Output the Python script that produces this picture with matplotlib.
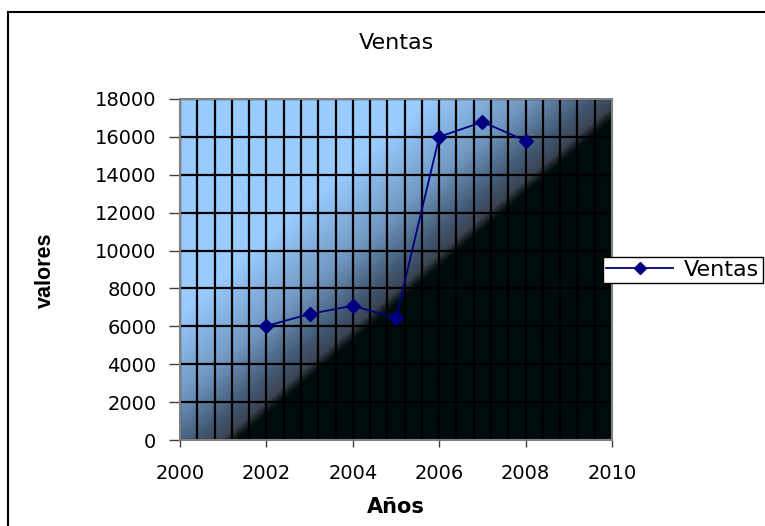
import numpy as np
import matplotlib
matplotlib.use("Agg")
import matplotlib.pyplot as plt
from matplotlib.colors import LinearSegmentedColormap
from matplotlib.lines import Line2D
from matplotlib.ticker import MultipleLocator

plt.rcParams['font.family'] = ['DejaVu Sans']

years = [2002, 2003, 2004, 2005, 2006, 2007, 2008]
ventas = [6020, 6650, 7090, 6430, 16000, 16790, 15800]
x_ticks = [2000, 2002, 2004, 2006, 2008, 2010]
y_ticks = [0, 2000, 4000, 6000, 8000, 10000, 12000, 14000, 16000, 18000]
title = "Ventas"
series_name = "Ventas"
x_label = "Años"
y_label = "valores"

W, H = 765, 526
fig = plt.figure(figsize=(W / 100, H / 100), dpi=100)
ax = fig.add_axes([180 / W, 1 - 440 / H, 432 / W, 341 / H])

# diagonal gradient background (light top-left -> dark bottom-right)
cmap = LinearSegmentedColormap.from_list("bg", [
    (0.0, "#99ccff"), (0.30, "#99ccff"), (0.42, "#7198c2"),
    (0.50, "#405670"), (0.53, "#3a4452"), (0.54, "#1a2226"),
    (0.548, "#000c0c"), (1.0, "#000c0c")])
n = 500
u = np.linspace(0, 1, n)
w = np.linspace(0, 1, n)
U, Wg = np.meshgrid(u, w)
T = 0.52 * U + 0.48 * Wg
ax.imshow(T, cmap=cmap, vmin=0, vmax=1, extent=[0, 1, 0, 1], origin='upper',
          transform=ax.transAxes, aspect='auto', zorder=0, interpolation='bilinear')

ax.plot(years, ventas, color="#000080", lw=1.3, marker='D', markersize=7,
        markerfacecolor="#000080", markeredgecolor="#000080", label=series_name, zorder=3)

ax.set_xlim(2000, 2010)
ax.set_ylim(0, 18000)
ax.set_xticks(x_ticks)
ax.set_yticks(y_ticks)
ax.xaxis.set_minor_locator(MultipleLocator(0.4))
ax.set_axisbelow(True)
ax.grid(True, which='minor', axis='x', color='black', lw=1.6)
ax.grid(True, which='major', axis='x', color='black', lw=1.6)
ax.grid(True, which='major', axis='y', color='black', lw=1.6)
ax.tick_params(axis='x', which='minor', length=0)
ax.tick_params(axis='x', which='major', direction='out', length=5, width=1,
               color='#404040', labelsize=14, pad=12)
ax.tick_params(axis='y', which='major', direction='out', length=8, width=1,
               color='#404040', labelsize=14, pad=9)
for s in ax.spines.values():
    s.set_color('#808080')
    s.set_linewidth(1.5)

fig.text(396 / W, 1 - 507 / H, x_label, ha='center', va='center', fontsize=15, fontweight='bold')
fig.text(45 / W, 1 - 270 / H, y_label, ha='center', va='center', fontsize=15.5,
         fontweight='bold', rotation=90, family=['Liberation Sans', 'DejaVu Sans'])
fig.text(396 / W, 1 - 43 / H, title, ha='center', va='center', fontsize=16)

leg = ax.legend(loc='center left', bbox_to_anchor=(603 / W, 1 - 270 / H),
                bbox_transform=fig.transFigure, fontsize=16, frameon=True,
                fancybox=False, handlelength=3.0, borderpad=0.15, handletextpad=0.5,
                borderaxespad=0)
leg.get_frame().set_edgecolor('black')
leg.get_frame().set_linewidth(1)
leg.get_frame().set_alpha(1)
for h in leg.legend_handles:
    h.set_markersize(6)

# outer chart border
fig.add_artist(Line2D([8 / W, 8 / W], [0, 1 - 12 / H], transform=fig.transFigure, color='black', lw=1.5))
fig.add_artist(Line2D([8 / W, 1], [1 - 12 / H, 1 - 12 / H], transform=fig.transFigure, color='black', lw=1.5))

fig.savefig("out.png", dpi=100)
